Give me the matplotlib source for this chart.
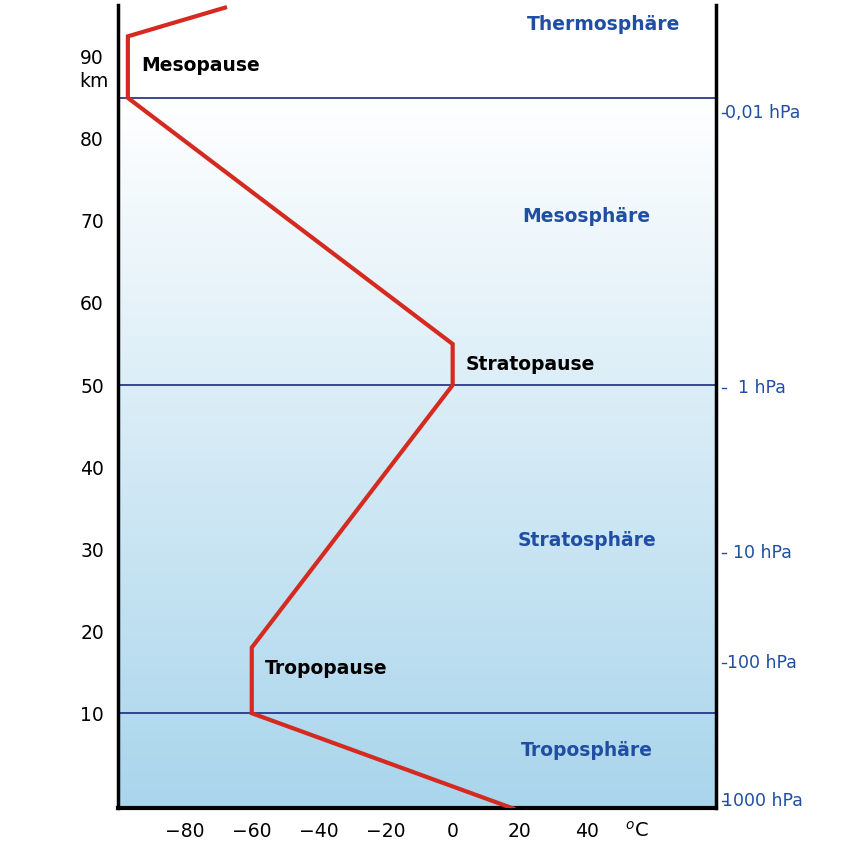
import numpy as np
import matplotlib.pyplot as plt

# temperature profile (deg C, km)
temp = [18, -60, -60, 0, 0, -97, -97, -68]
alt = [-1.6, 10, 18, 50, 55, 85, 92.5, 96]

layers = [("Troposphäre", 5.5), ("Stratosphäre", 31), ("Mesosphäre", 70.5), ("Thermosphäre", 94)]
pauses = [("Tropopause", -56, 15.5), ("Stratopause", 4, 52.5), ("Mesopause", -93, 89)]
pressure = [("0,01 hPa", 83.2), ("1 hPa", 49.6), ("10 hPa", 29.5), ("100 hPa", 16.1), ("1000 hPa", -0.7)]

xmin, xmax, ymin, ymax = -100, 78.5, -1.6, 96.3
blue = "#1f4ea3"

fig = plt.figure(figsize=(8.6, 8.6), dpi=100)
ax = fig.add_axes([0.137, 0.06, 0.695, 0.934])

grad = np.linspace(0, 1, 256).reshape(-1, 1)
cmap = plt.matplotlib.colors.LinearSegmentedColormap.from_list("sky", ["#a9d5ec", "#ffffff"])
ax.imshow(grad, extent=[xmin, xmax, ymin, 85], aspect="auto", cmap=cmap, origin="lower", zorder=0)

for h in [10, 50, 85]:
    ax.axhline(h, color="#1a2a80", lw=1.2, zorder=1)

ax.plot(temp, alt, color="#d42a20", lw=3, zorder=3, solid_joinstyle="miter")

for name, y in layers:
    ax.text(40 if name != "Thermosphäre" else 45, y, name, color=blue, fontsize=13.5,
            fontweight="bold", ha="center", va="center")
for name, x, y in pauses:
    ax.text(x, y, name, color="black", fontsize=13.5, fontweight="bold", ha="left", va="center")
for name, y in pressure:
    ax.text(xmax + 14, y, name, color=blue, fontsize=12.5, ha="center", va="center", clip_on=False)
    ax.plot([xmax + 2, xmax + 3], [y, y], color=blue, lw=1, clip_on=False)

ax.set_xlim(xmin, xmax)
ax.set_ylim(ymin, ymax)
ax.set_xticks([-80, -60, -40, -20, 0, 20, 40])
ax.set_yticks([10, 20, 30, 40, 50, 60, 70, 80, 90])
ax.tick_params(length=0, labelsize=13.5, pad=10)
ax.text(55, -4.3, "$^{o}$C", fontsize=14, ha="center", va="center", clip_on=False)
ax.text(-107, 87, "km", fontsize=13.5, ha="center", va="center", clip_on=False)

ax.spines["top"].set_visible(False)
ax.spines["bottom"].set_linewidth(3)
for s in ["left", "right"]:
    ax.spines[s].set_linewidth(2.5)

fig.savefig("out.png", dpi=100)
